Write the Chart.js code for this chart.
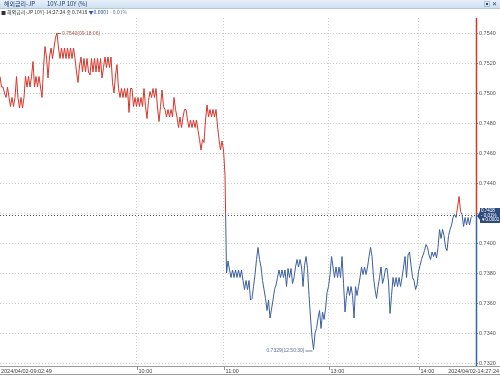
<!DOCTYPE html>
<html>
<head>
<meta charset="utf-8">
<script src="https://cdn.jsdelivr.net/npm/chart.js@4.4.1/dist/chart.umd.min.js"></script>
<style>
  body { margin: 0; background: #fff; }
  #wrap { position: relative; width: 500px; height: 376px; overflow: hidden; font-family: "Noto Sans CJK KR", "Liberation Sans", sans-serif; }
  #bar { position: absolute; left: 0; top: 0; width: 500px; height: 8px; background: linear-gradient(#e6f0fa, #cfe0f1); border-bottom: 1px solid #b5c9de; font-size: 6px; line-height: 8px; color: #23406f; z-index: 2; }
  #bar span { position: absolute; top: 0; }
  #legend { position: absolute; left: 1px; top: 8px; font-size: 5px; line-height: 7px; color: #333; white-space: nowrap; z-index: 2; }
  #legend .dn { color: #2f57a8; }
  #legend .pc { color: #6a7b95; }
  canvas { position: absolute; left: 0; top: 0; }
</style>
</head>
<body>
<div id="wrap">
  <div id="bar">
    <span style="left:4px">해외금리-JP</span>
    <span style="left:47px">10Y-JP 10Y (%)</span>
    <span style="left:484px">▣</span>
    <span style="left:492px">✕</span>
  </div>
  <div id="legend">■ 해외금리-JP 10Y]-14:27:24 종 0.7418 <span class="dn">▼0.0001</span> <span class="pc">- 0.01%</span></div>
  <canvas id="chart" width="500" height="376"></canvas>
</div>
<script>
// 체결 흐름
const prices = [
  0.7511, 0.7504, 0.7504, 0.7500, 0.7497, 0.7504, 0.7497, 0.7491, 0.7497, 0.7491,
  0.7497, 0.7511, 0.7497, 0.7490, 0.7497, 0.7490, 0.7497, 0.7511, 0.7504, 0.7511,
  0.7504, 0.7511, 0.7521, 0.7504, 0.7511, 0.7504, 0.7511, 0.7504, 0.7497, 0.7517,
  0.7531, 0.7524, 0.7510, 0.7524, 0.7530, 0.7523, 0.7530, 0.7537, 0.7540, 0.7530,
  0.7523, 0.7530, 0.7523, 0.7530, 0.7523, 0.7530, 0.7523, 0.7530, 0.7523, 0.7530,
  0.7523, 0.7514, 0.7507, 0.7518, 0.7524, 0.7514, 0.7523, 0.7514, 0.7523, 0.7514,
  0.7512, 0.7523, 0.7514, 0.7523, 0.7514, 0.7523, 0.7514, 0.7523, 0.7510, 0.7517,
  0.7524, 0.7517, 0.7524, 0.7517, 0.7524, 0.7507, 0.7500, 0.7512, 0.7519, 0.7503,
  0.7497, 0.7503, 0.7497, 0.7503, 0.7497, 0.7503, 0.7487, 0.7503, 0.7503, 0.7491,
  0.7497, 0.7491, 0.7497, 0.7491, 0.7497, 0.7491, 0.7503, 0.7491, 0.7483, 0.7495,
  0.7501, 0.7497, 0.7503, 0.7497, 0.7503, 0.7490, 0.7481, 0.7491, 0.7502, 0.7491,
  0.7489, 0.7484, 0.7489, 0.7484, 0.7489, 0.7484, 0.7497, 0.7489, 0.7484, 0.7477,
  0.7484, 0.7477, 0.7484, 0.7489, 0.7489, 0.7482, 0.7477, 0.7482, 0.7477, 0.7482,
  0.7477, 0.7482, 0.7475, 0.7469, 0.7462, 0.7469, 0.7467, 0.7482, 0.7492, 0.7484,
  0.7489, 0.7484, 0.7489, 0.7484, 0.7489, 0.7478, 0.7469, 0.7462, 0.7468, 0.7462,
  0.7445, 0.7380, 0.7388, 0.7382, 0.7377, 0.7382, 0.7377, 0.7382, 0.7377, 0.7382,
  0.7377, 0.7382, 0.7375, 0.7369, 0.7375, 0.7369, 0.7375, 0.7362, 0.7363, 0.7371,
  0.7379, 0.7389, 0.7397, 0.7389, 0.7384, 0.7375, 0.7369, 0.7363, 0.7355, 0.7362,
  0.7350, 0.7356, 0.7362, 0.7369, 0.7372, 0.7377, 0.7382, 0.7377, 0.7382, 0.7377,
  0.7382, 0.7371, 0.7383, 0.7377, 0.7383, 0.7373, 0.7377, 0.7384, 0.7389, 0.7384,
  0.7389, 0.7384, 0.7371, 0.7385, 0.7391, 0.7383, 0.7365, 0.7350, 0.7337, 0.7329,
  0.7340, 0.7343, 0.7350, 0.7355, 0.7343, 0.7354, 0.7349, 0.7356, 0.7367, 0.7371,
  0.7379, 0.7391, 0.7384, 0.7377, 0.7384, 0.7377, 0.7384, 0.7377, 0.7391, 0.7373,
  0.7354, 0.7365, 0.7371, 0.7365, 0.7371, 0.7365, 0.7350, 0.7371, 0.7365, 0.7371,
  0.7377, 0.7384, 0.7379, 0.7384, 0.7379, 0.7384, 0.7391, 0.7397, 0.7391, 0.7377,
  0.7369, 0.7363, 0.7371, 0.7377, 0.7384, 0.7373, 0.7377, 0.7383, 0.7383, 0.7374,
  0.7353, 0.7365, 0.7377, 0.7371, 0.7377, 0.7371, 0.7377, 0.7371, 0.7377, 0.7384,
  0.7391, 0.7377, 0.7392, 0.7394, 0.7385, 0.7377, 0.7375, 0.7369, 0.7372, 0.7381,
  0.7385, 0.7389, 0.7392, 0.7395, 0.7399, 0.7397, 0.7392, 0.7389, 0.7394, 0.7391,
  0.7394, 0.7390, 0.7397, 0.7409, 0.7403, 0.7409, 0.7405, 0.7397, 0.7395, 0.7405,
  0.7409, 0.7412, 0.7417, 0.7419, 0.7417, 0.7424, 0.7431, 0.7421, 0.7419, 0.7411,
  0.7417, 0.7412, 0.7417, 0.7412, 0.7417, 0.7418
];

const prevClose = 0.7419;
const lastPrice = 0.7418;
const change = '▼0.0001';
const changePct = '- 0.01%';

// 시간 눈금 (체결 인덱스 기준)
const hourTicks = [91.3, 149.3, 219.3, 279.3];
const hourLabels = ['10:00', '11:00', '13:00', '14:00'];
const startLabel = '2024/04/02-09:02:49';
const endLabel = '2024/04/02-14:27:24';

const yTicks = [0.7320, 0.7340, 0.7360, 0.7380, 0.7400, 0.7420, 0.7440, 0.7460, 0.7480, 0.7500, 0.7520, 0.7540];

// 최고/최저 표시
const highIdx = 38, highText = '0.7540(09:18:06)';
const lowIdx = 209, lowText = '0.7329(12:50:30)';

const RED = '#d8352a';
const BLUE = '#3b5f9f';
const FONT = '"Liberation Sans", Arial, sans-serif';

// 기준가 위는 빨강, 아래는 파랑
function splitGradient(chart) {
  const area = chart.chartArea;
  if (!area) return RED;
  const yRef = chart.scales.y.getPixelForValue(prevClose);
  const f = Math.min(1, Math.max(0, (yRef - area.top) / (area.bottom - area.top)));
  const g = chart.ctx.createLinearGradient(0, area.top, 0, area.bottom);
  g.addColorStop(0, RED);
  g.addColorStop(f, RED);
  g.addColorStop(f, BLUE);
  g.addColorStop(1, BLUE);
  return g;
}

const overlay = {
  id: 'overlay',
  beforeDatasetsDraw(chart) {
    const { ctx, chartArea: a, scales: { y } } = chart;
    const yRef = Math.round(y.getPixelForValue(prevClose)) + 0.5;
    ctx.save();
    ctx.strokeStyle = '#555';
    ctx.lineWidth = 1;
    ctx.setLineDash([1, 2]);
    ctx.beginPath();
    ctx.moveTo(a.left, yRef);
    ctx.lineTo(a.right, yRef);
    ctx.stroke();
    ctx.restore();
  },
  afterDraw(chart) {
    const { ctx, chartArea: a, scales: { x, y } } = chart;
    ctx.save();

    // 오른쪽 축선
    ctx.strokeStyle = splitGradient(chart);
    ctx.lineWidth = 1.5;
    ctx.beginPath();
    ctx.moveTo(a.right + 0.5, a.top);
    ctx.lineTo(a.right + 0.5, a.bottom);
    ctx.stroke();

    // x축 띠
    ctx.strokeStyle = '#9a9a9a';
    ctx.lineWidth = 1;
    ctx.beginPath();
    ctx.moveTo(0, a.bottom + 0.5);
    ctx.lineTo(500, a.bottom + 0.5);
    ctx.moveTo(0, 374.5);
    ctx.lineTo(500, 374.5);
    ctx.stroke();

    ctx.fillStyle = '#444';
    ctx.font = '5.5px ' + FONT;
    ctx.textBaseline = 'middle';
    const ty = a.bottom + 5;
    ctx.textAlign = 'left';
    ctx.fillText(startLabel, 1, ty);
    hourTicks.forEach((t, i) => {
      const px = Math.round(x.getPixelForValue(t)) + 0.5;
      ctx.beginPath();
      ctx.moveTo(px, a.bottom);
      ctx.lineTo(px, a.bottom + 4);
      ctx.stroke();
      ctx.fillText(hourLabels[i], px + 1, ty);
    });
    ctx.textAlign = 'right';
    ctx.fillText(endLabel, 499, ty);

    // 최고/최저 라벨
    ctx.font = '5px ' + FONT;
    const hx = x.getPixelForValue(highIdx), hy = y.getPixelForValue(prices[highIdx]);
    ctx.strokeStyle = '#c4584f';
    ctx.beginPath();
    ctx.moveTo(hx + 1, hy + 0.5);
    ctx.lineTo(hx + 4, hy + 0.5);
    ctx.stroke();
    ctx.fillStyle = '#b2544c';
    ctx.textAlign = 'left';
    ctx.fillText(highText, hx + 5, hy + 0.5);

    const lx = x.getPixelForValue(lowIdx), ly = y.getPixelForValue(prices[lowIdx]);
    ctx.strokeStyle = '#6d83ab';
    ctx.beginPath();
    ctx.moveTo(lx - 1, ly + 1.5);
    ctx.lineTo(lx - 8, ly + 1.5);
    ctx.stroke();
    ctx.fillStyle = '#5d739c';
    ctx.textAlign = 'right';
    ctx.fillText(lowText, lx - 9, ly + 1.5);

    // 현재가 박스
    const py = y.getPixelForValue(lastPrice);
    ctx.fillStyle = '#2d4b7c';
    ctx.beginPath();
    ctx.moveTo(a.right + 1, py);
    ctx.lineTo(a.right + 4, py - 4);
    ctx.lineTo(a.right + 4, py - 8);
    ctx.lineTo(500, py - 8);
    ctx.lineTo(500, py + 7);
    ctx.lineTo(a.right + 4, py + 7);
    ctx.lineTo(a.right + 4, py + 4);
    ctx.closePath();
    ctx.fill();
    ctx.fillStyle = '#fff';
    ctx.textAlign = 'left';
    ctx.font = '4.5px ' + FONT;
    ctx.fillText(lastPrice.toFixed(4), a.right + 5, py - 5);
    ctx.fillText(changePct, a.right + 5, py - 0.5);
    ctx.fillText(change, a.right + 5, py + 4);

    ctx.restore();
  }
};

new Chart(document.getElementById('chart'), {
  type: 'line',
  data: {
    datasets: [{
      data: prices.map((v, i) => ({ x: i, y: v })),
      borderColor: ctx => splitGradient(ctx.chart),
      borderWidth: 1,
      pointRadius: 0,
      tension: 0,
      fill: false
    }]
  },
  options: {
    responsive: false,
    animation: false,
    events: [],
    layout: { padding: { top: 18, left: 0, right: 0, bottom: 0 } },
    plugins: { legend: { display: false }, tooltip: { enabled: false } },
    scales: {
      x: {
        type: 'linear',
        min: 0,
        max: 317.3,
        afterBuildTicks: s => { s.ticks = hourTicks.map(v => ({ value: v })); },
        afterFit: s => { s.height = 10; },
        ticks: { display: false },
        border: { display: false, dash: [1, 2] },
        grid: { color: '#cfcfcf', drawTicks: false }
      },
      y: {
        position: 'right',
        min: 0.7318,
        max: 0.7550,
        afterBuildTicks: s => { s.ticks = yTicks.map(v => ({ value: v })); },
        afterFit: s => { s.width = 24; },
        ticks: {
          color: '#555',
          padding: 1,
          font: { family: FONT, size: 5.5 },
          callback: v => v.toFixed(4)
        },
        border: { display: false, dash: [1, 2] },
        grid: { color: '#cfcfcf', tickLength: 2, tickColor: '#888', tickBorderDash: [] }
      }
    }
  },
  plugins: [overlay]
});
</script>
</body>
</html>
